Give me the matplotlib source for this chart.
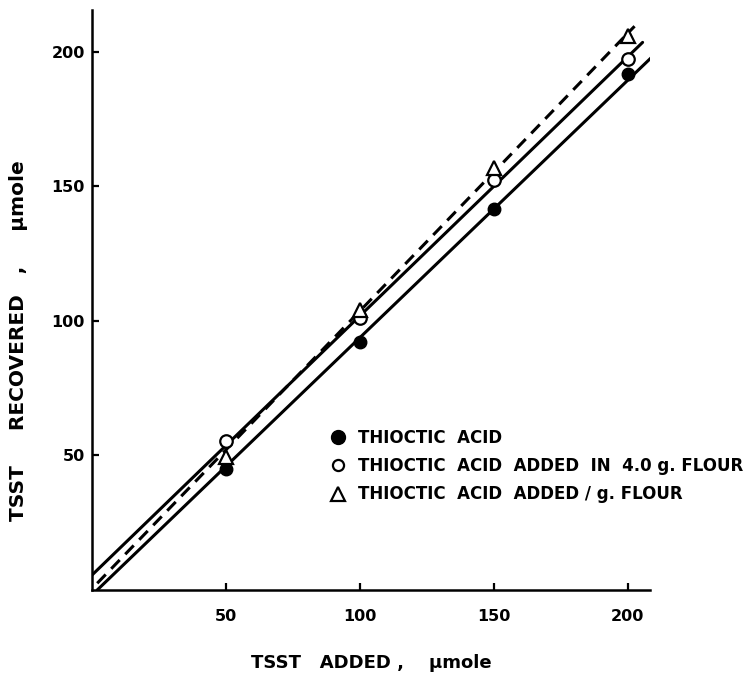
import matplotlib
matplotlib.use("Agg")
import matplotlib.pyplot as plt
from matplotlib.lines import Line2D

plt.rcParams["font.family"] = ["DejaVu Sans"]
plt.rcParams["font.weight"] = "bold"

# recovered TSST (umole)
added = [50, 100, 150, 200]
thioctic = [45.0, 92.2, 141.5, 191.8]
in_flour = [55.3, 101.2, 152.3, 197.3]
per_gram = [49.6, 103.9, 156.9, 205.8]

# fitted lines, end points
fit_thioctic_x = [2, 211]
fit_thioctic_y = [0, 200]
fit_flour_x = [0, 205.5]
fit_flour_y = [5.5, 203.5]
fit_gram_x = [2, 202.5]
fit_gram_y = [2.5, 209.5]

x_ticks = [50, 100, 150, 200]
y_ticks = [50, 100, 150, 200]

labels = [
    "THIOCTIC  ACID",
    "THIOCTIC  ACID  ADDED  IN  4.0 g. FLOUR",
    "THIOCTIC  ACID  ADDED / g. FLOUR",
]

fig = plt.figure(figsize=(7.53, 6.77), dpi=100)
ax = fig.add_axes([0.122, 0.1285, 0.741, 0.857])

lw = 2.2
ax.plot(fit_thioctic_x, fit_thioctic_y, color="black", lw=lw, solid_capstyle="round", zorder=2)
ax.plot(fit_flour_x, fit_flour_y, color="black", lw=lw, solid_capstyle="round", zorder=2)
ax.plot(fit_gram_x, fit_gram_y, color="black", lw=lw, linestyle=(0, (4, 2.6)), zorder=2)

ax.plot(added, thioctic, "o", color="black", ms=9, zorder=3)
ax.plot(added, in_flour, "o", mfc="white", mec="black", mew=1.6, ms=9, zorder=4)
ax.plot(added, per_gram, "^", mfc="white", mec="black", mew=1.6, ms=10, zorder=4)

ax.set_xlim(0, 208.2)
ax.set_ylim(0, 215.6)
ax.set_xticks(x_ticks)
ax.set_yticks(y_ticks)
ax.spines["top"].set_visible(False)
ax.spines["right"].set_visible(False)
for side in ("left", "bottom"):
    ax.spines[side].set_linewidth(1.8)
ax.tick_params(direction="in", length=5, width=1.6, labelsize=11.5)
ax.tick_params(axis="y", pad=5)
ax.tick_params(axis="x", pad=14)

ax.set_xlabel("TSST   ADDED ,    µmole", fontsize=13, fontweight="bold")
ax.set_ylabel("TSST     RECOVERED   ,     µmole", fontsize=14.5, fontweight="bold")
ax.xaxis.set_label_coords(0.5, -0.11)
ax.yaxis.set_label_coords(-0.115, 0.43)

handles = [
    Line2D([], [], ls="", marker="o", color="black", ms=10),
    Line2D([], [], ls="", marker="o", mfc="white", mec="black", mew=1.6, ms=8),
    Line2D([], [], ls="", marker="^", mfc="white", mec="black", mew=1.6, ms=10),
]
ax.legend(handles, labels, loc="center left", bbox_to_anchor=(0.427, 0.3115),
          bbox_transform=fig.transFigure, frameon=False, fontsize=12,
          handlelength=1.0, handletextpad=0.7, labelspacing=0.62, borderpad=0)

fig.savefig("out.png", dpi=100)
